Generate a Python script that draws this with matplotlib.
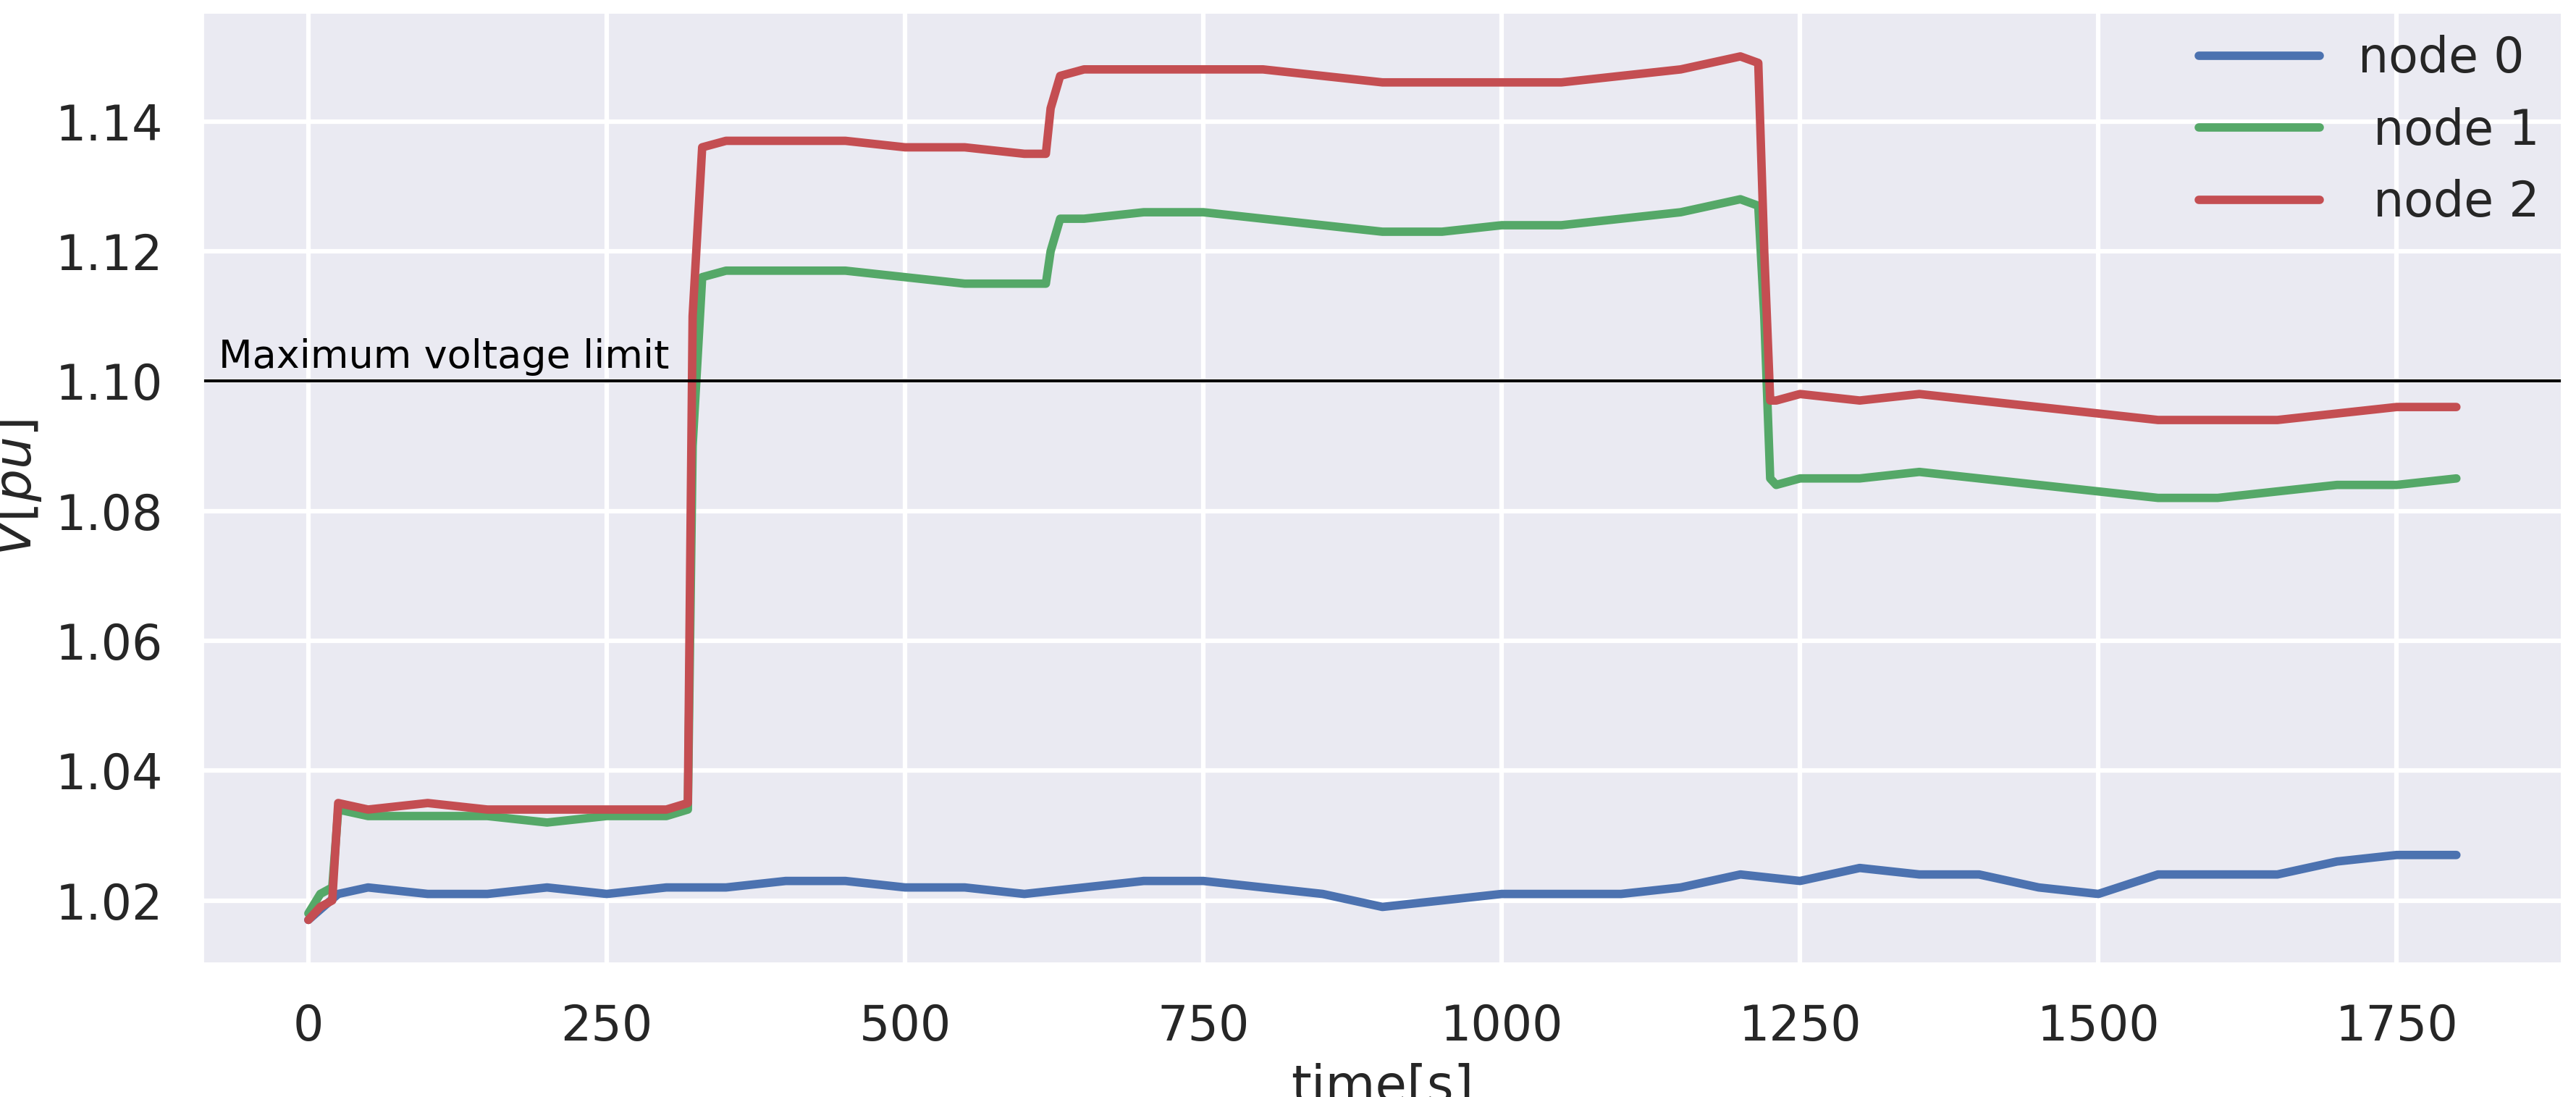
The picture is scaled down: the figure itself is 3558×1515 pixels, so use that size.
import matplotlib
matplotlib.use("Agg")
import matplotlib.pyplot as plt
import seaborn as sns

sns.set_theme(style="darkgrid", context="talk", palette="deep")

t0 = [0, 25, 50, 100, 150, 200, 250, 300, 350, 400, 450, 500, 550, 600, 650, 700, 750,
      800, 850, 900, 950, 1000, 1050, 1100, 1150, 1200, 1250, 1300, 1350, 1400, 1450,
      1500, 1550, 1600, 1650, 1700, 1750, 1800]
node0 = [1.017, 1.021, 1.022, 1.021, 1.021, 1.022, 1.021, 1.022, 1.022, 1.023, 1.023,
         1.022, 1.022, 1.021, 1.022, 1.023, 1.023, 1.022, 1.021, 1.019, 1.020, 1.021,
         1.021, 1.021, 1.022, 1.024, 1.023, 1.025, 1.024, 1.024, 1.022, 1.021, 1.024,
         1.024, 1.024, 1.026, 1.027, 1.027]

t12 = [0, 10, 20, 25, 50, 100, 150, 200, 250, 300, 318, 322, 330, 350, 400, 450, 500,
       550, 600, 618, 622, 630, 650, 700, 750, 800, 850, 900, 950, 1000, 1050, 1100,
       1150, 1200, 1215, 1220, 1225, 1230, 1250, 1300, 1350, 1400, 1450, 1500, 1550,
       1600, 1650, 1700, 1750, 1800]
node1 = [1.018, 1.021, 1.022, 1.034, 1.033, 1.033, 1.033, 1.032, 1.033, 1.033,
         1.034, 1.090, 1.116, 1.117, 1.117, 1.117, 1.116, 1.115, 1.115, 1.115,
         1.120, 1.125, 1.125, 1.126, 1.126, 1.125, 1.124, 1.123, 1.123, 1.124,
         1.124, 1.125, 1.126, 1.128, 1.127, 1.110, 1.085, 1.084, 1.085, 1.085,
         1.086, 1.085, 1.084, 1.083, 1.082, 1.082, 1.083, 1.084, 1.084, 1.085]
node2 = [1.017, 1.019, 1.020, 1.035, 1.034, 1.035, 1.034, 1.034, 1.034, 1.034,
         1.035, 1.110, 1.136, 1.137, 1.137, 1.137, 1.136, 1.136, 1.135, 1.135,
         1.142, 1.147, 1.148, 1.148, 1.148, 1.148, 1.147, 1.146, 1.146, 1.146,
         1.146, 1.147, 1.148, 1.150, 1.149, 1.120, 1.097, 1.097, 1.098, 1.097,
         1.098, 1.097, 1.096, 1.095, 1.094, 1.094, 1.094, 1.095, 1.096, 1.096]

v_max = 1.10
colors = ["#4C72B0", "#55A868", "#C44E52"]

fig, ax = plt.subplots(figsize=(11.863, 5.05), dpi=300)
ax.plot(t0, node0, lw=2.8, color=colors[0], label="node 0")
ax.plot(t12, node1, lw=2.8, color=colors[1], label=" node 1")
ax.plot(t12, node2, lw=2.8, color=colors[2], label=" node 2")
ax.axhline(v_max, color="black", lw=1)
ax.text(-75, v_max + 0.002, "Maximum voltage limit", fontsize=13, color="black")

ax.set_xlim(-90, 1890)
ax.set_ylim(1.010, 1.157)
ax.set_xticks([0, 250, 500, 750, 1000, 1250, 1500, 1750])
ax.set_yticks([1.02, 1.04, 1.06, 1.08, 1.10, 1.12, 1.14])
ax.tick_params(labelsize=16)
ax.set_xlabel("time[s]", fontsize=17)
ax.set_ylabel("$V[pu]$", fontsize=17)
ax.legend(loc="upper right", frameon=False, fontsize=16, borderaxespad=0.1,
          handlelength=2.5)
fig.subplots_adjust(left=0.078, right=0.995, top=0.99, bottom=0.12)
fig.savefig("out.png")
